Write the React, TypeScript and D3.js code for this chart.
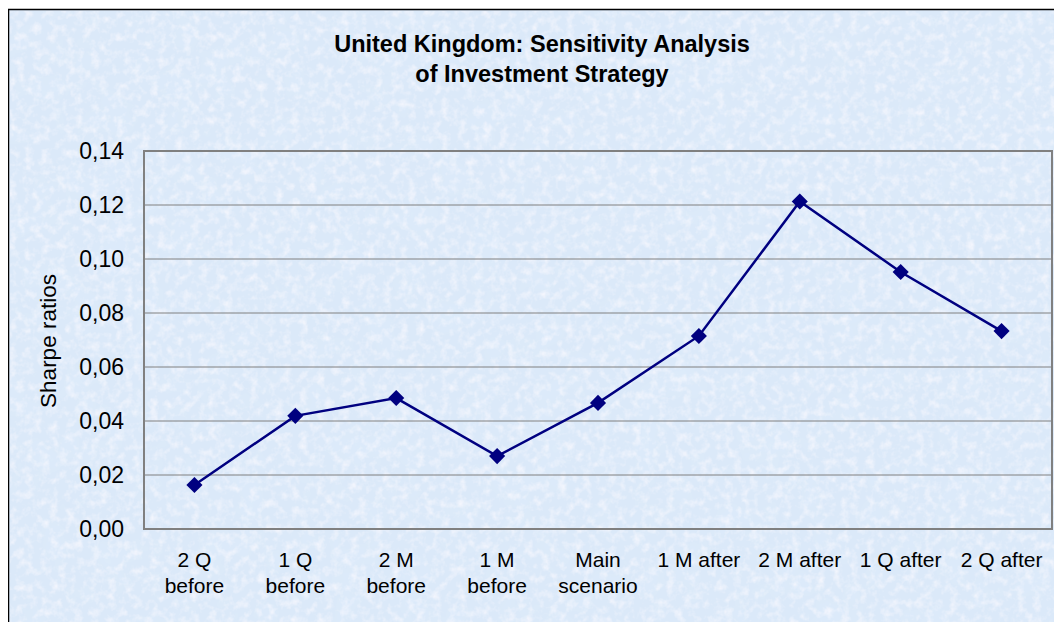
import React from "react";
import * as d3 from "d3";

const categories: string[][] = [
  ["2 Q", "before"],
  ["1 Q", "before"],
  ["2 M", "before"],
  ["1 M", "before"],
  ["Main", "scenario"],
  ["1 M after"],
  ["2 M after"],
  ["1 Q after"],
  ["2 Q after"],
];
const sharpeValues: number[] = [0.0163, 0.0419, 0.0485, 0.027, 0.0467, 0.0715, 0.1213, 0.0952, 0.0733];
const yTicks: number[] = [0, 0.02, 0.04, 0.06, 0.08, 0.1, 0.12, 0.14];
const titleLines: string[] = ["United Kingdom: Sensitivity Analysis", "of Investment Strategy"];
const yLabel = "Sharpe ratios";

export default function App() {
  const W = 1054;
  const H = 614;
  const left = 144, right = 1052, top = 151, bottom = 529;
  const x = d3.scaleBand<number>().domain(categories.map((_, i) => i)).range([left, right]);
  const y = d3.scaleLinear().domain([0, 0.14]).range([bottom, top]);
  const cx = (i: number) => (x(i) as number) + x.bandwidth() / 2;
  const line = d3.line<number>().x((_, i) => cx(i)).y((d) => y(d));
  const diamond = d3.symbol(d3.symbolSquare, 130)() as string;
  const fmt = (v: number) => v.toFixed(2).replace(".", ",");
  const font = "Arial, 'Liberation Sans', sans-serif";

  return (
    <svg width={W} height={H} style={{ display: "block" }}>
      <defs>
        <filter id="tex" x="0" y="0" width="100%" height="100%">
          <feTurbulence type="fractalNoise" baseFrequency="0.12" numOctaves={3} seed={4} result="n" />
          <feColorMatrix
            in="n"
            type="matrix"
            values="0 0 0 0 1  0 0 0 0 0.97  0 0 0 0 1  1.4 0 0 0 -0.62"
          />
        </filter>
        <filter id="tex2" x="0" y="0" width="100%" height="100%">
          <feTurbulence type="fractalNoise" baseFrequency="0.03" numOctaves={3} seed={9} result="n" />
          <feColorMatrix
            in="n"
            type="matrix"
            values="0 0 0 0 0.74  0 0 0 0 0.85  0 0 0 0 0.97  1.0 0 0 0 -0.45"
          />
        </filter>
      </defs>
      <g transform="translate(-8,-8)">
        <rect x={8.5} y={9.5} width={1100} height={700} fill="#dbe9f9" stroke="#000" strokeWidth={1.5} />
        <rect x={10} y={11} width={1100} height={700} filter="url(#tex2)" />
        <rect x={10} y={11} width={1100} height={700} filter="url(#tex)" />
        <text x={542} y={52} textAnchor="middle" fontFamily={font} fontWeight="bold" fontSize={23.5} fill="#000">
          {titleLines[0]}
        </text>
        <text x={542} y={82} textAnchor="middle" fontFamily={font} fontWeight="bold" fontSize={23.5} fill="#000">
          {titleLines[1]}
        </text>
        {yTicks.map((t) => (
          <g key={t}>
            {t > 0 && t < 0.14 && (
              <line x1={left} x2={right} y1={y(t)} y2={y(t)} stroke="#808080" strokeWidth={1} />
            )}
            <text x={124} y={y(t) + 8} textAnchor="end" fontFamily={font} fontSize={23} fill="#000">
              {fmt(t)}
            </text>
          </g>
        ))}
        <rect x={left} y={top} width={right - left} height={bottom - top} fill="none" stroke="#808080" strokeWidth={2} />
        <text
          transform={`translate(56,341) rotate(-90)`}
          textAnchor="middle"
          fontFamily={font}
          fontSize={22.5}
          fill="#000"
        >
          {yLabel}
        </text>
        {categories.map((lines, i) => (
          <text key={i} textAnchor="middle" fontFamily={font} fontSize={21} fill="#000">
            {lines.map((l, j) => (
              <tspan key={j} x={cx(i)} y={567 + j * 26}>
                {l}
              </tspan>
            ))}
          </text>
        ))}
        <path d={line(sharpeValues) as string} fill="none" stroke="#000080" strokeWidth={2.5} />
        {sharpeValues.map((v, i) => (
          <path key={i} d={diamond} transform={`translate(${cx(i)},${y(v)}) rotate(45)`} fill="#000080" />
        ))}
      </g>
    </svg>
  );
}
